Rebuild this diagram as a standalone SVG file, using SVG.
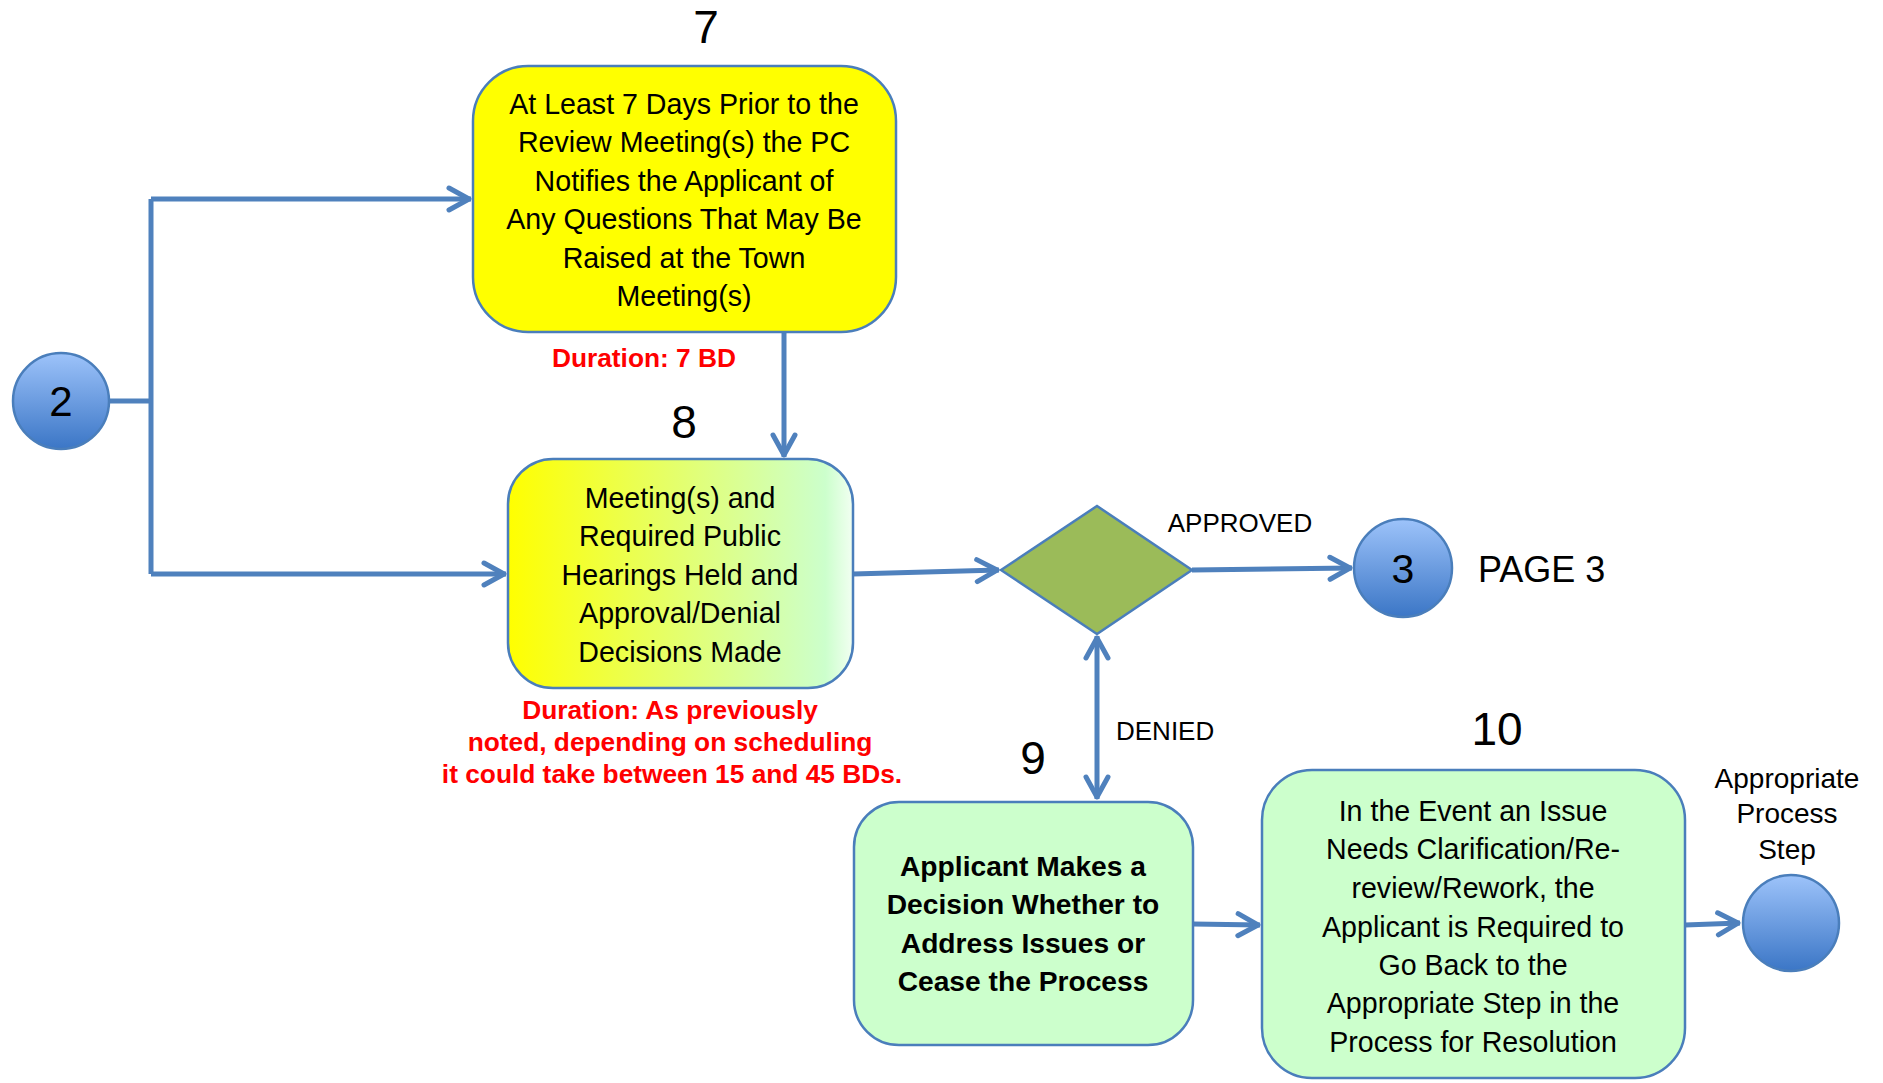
<svg xmlns="http://www.w3.org/2000/svg" width="1883" height="1083" viewBox="0 0 1883 1083">
<style>
.box{stroke:#4A7EBB;stroke-width:2.5}
.t{font-family:"Liberation Sans",Arial,sans-serif;font-size:28.6px;fill:#000;text-anchor:middle}
.b{font-weight:bold;font-size:28.2px}
.num{font-family:"Liberation Sans",Arial,sans-serif;font-size:46px;fill:#000;text-anchor:middle}
.red{font-family:"Liberation Sans",Arial,sans-serif;font-size:26.3px;font-weight:bold;fill:#FF0000;text-anchor:middle}
.lbl{font-family:"Liberation Sans",Arial,sans-serif;font-size:26px;fill:#000}
.conn{fill:none;stroke:#4F81BD;stroke-width:5}
.circ{fill:url(#cg);stroke:#4A7EBB;stroke-width:2.5}
</style>
<defs>
<linearGradient id="cg" x1="0" y1="0" x2="0" y2="1">
<stop offset="0" stop-color="#9DC3FA"/>
<stop offset="1" stop-color="#3B76C6"/>
</linearGradient>
<linearGradient id="yg" x1="0" y1="0" x2="1" y2="0">
<stop offset="0" stop-color="#FFFF00"/>
<stop offset="0.92" stop-color="#CCFFCC"/>
<stop offset="1" stop-color="#F2FFF2"/>
</linearGradient>
<marker id="ah" markerUnits="userSpaceOnUse" markerWidth="40" markerHeight="40" refX="2" refY="0" viewBox="-30 -20 40 40" orient="auto-start-reverse" overflow="visible">
<path d="M-20,-11 L0,0 L-20,11" fill="none" stroke="#4F81BD" stroke-width="5" stroke-linecap="round" stroke-linejoin="round"/>
</marker>
</defs>
<rect width="1883" height="1083" fill="#FFFFFF"/>

<g id="connectors">
<path class="conn" d="M110,401 H151"/>
<path class="conn" d="M151,199 V574"/>
<path class="conn" d="M151,199 H471" marker-end="url(#ah)"/>
<path class="conn" d="M151,574 H506" marker-end="url(#ah)"/>
<path class="conn" d="M784,332 V457" marker-end="url(#ah)"/>
<path class="conn" d="M853,574 L999,570" marker-end="url(#ah)"/>
<path class="conn" d="M1192,570 L1352,568" marker-end="url(#ah)"/>
<path class="conn" d="M1097,636 V799" marker-start="url(#ah)" marker-end="url(#ah)"/>
<path class="conn" d="M1193,924 L1260,925" marker-end="url(#ah)"/>
<path class="conn" d="M1685,925 L1740,923" marker-end="url(#ah)"/>
</g>

<g id="node-2">
<ellipse class="circ" cx="61" cy="401" rx="48" ry="48"/>
<text class="num" x="61" y="416" style="font-size:42px">2</text>
</g>

<g id="node-7">
<text class="num" x="706" y="43">7</text>
<rect class="box" x="473" y="66" width="423" height="266" rx="55" ry="55" fill="#FFFF00"/>
<text class="t" x="684" y="114">At Least 7 Days Prior to the</text>
<text class="t" x="684" y="152">Review Meeting(s) the PC</text>
<text class="t" x="684" y="191">Notifies the Applicant of</text>
<text class="t" x="684" y="229">Any Questions That May Be</text>
<text class="t" x="684" y="268">Raised at the Town</text>
<text class="t" x="684" y="306">Meeting(s)</text>
<text class="red" x="644" y="367">Duration: 7 BD</text>
</g>

<g id="node-8">
<text class="num" x="684" y="438">8</text>
<rect class="box" x="508" y="459" width="345" height="229" rx="45" ry="45" fill="url(#yg)"/>
<text class="t" x="680" y="508">Meeting(s) and</text>
<text class="t" x="680" y="546">Required Public</text>
<text class="t" x="680" y="585">Hearings Held and</text>
<text class="t" x="680" y="623">Approval/Denial</text>
<text class="t" x="680" y="662">Decisions Made</text>
<text class="red" x="670" y="719">Duration: As previously</text>
<text class="red" x="670" y="751">noted, depending on scheduling</text>
<text class="red" x="672" y="783">it could take between 15 and 45 BDs.</text>
</g>

<g id="decision">
<polygon points="1001,570 1097,506 1192,570 1097,634" fill="#9BBB59" stroke="#4A7EBB" stroke-width="2.5"/>
<text class="lbl" x="1240" y="532" text-anchor="middle">APPROVED</text>
<text class="lbl" x="1116" y="740">DENIED</text>
</g>

<g id="node-3">
<ellipse class="circ" cx="1403" cy="568" rx="49" ry="49"/>
<text class="num" x="1403" y="583" style="font-size:41px">3</text>
<text class="lbl" x="1478" y="582" style="font-size:36px">PAGE 3</text>
</g>

<g id="node-9">
<text class="num" x="1033" y="774">9</text>
<rect class="box" x="854" y="802" width="339" height="243" rx="45" ry="45" fill="#CCFFCC"/>
<text class="t b" x="1023" y="876">Applicant Makes a</text>
<text class="t b" x="1023" y="914">Decision Whether to</text>
<text class="t b" x="1023" y="953">Address Issues or</text>
<text class="t b" x="1023" y="991">Cease the Process</text>
</g>

<g id="node-10">
<text class="num" x="1497" y="745">10</text>
<rect class="box" x="1262" y="770" width="423" height="308" rx="50" ry="50" fill="#CCFFCC"/>
<text class="t" x="1473" y="821">In the Event an Issue</text>
<text class="t" x="1473" y="859">Needs Clarification/Re-</text>
<text class="t" x="1473" y="898">review/Rework, the</text>
<text class="t" x="1473" y="937">Applicant is Required to</text>
<text class="t" x="1473" y="975">Go Back to the</text>
<text class="t" x="1473" y="1013">Appropriate Step in the</text>
<text class="t" x="1473" y="1052">Process for Resolution</text>
</g>

<g id="node-step">
<text class="t" x="1787" y="788" style="font-size:28px">Appropriate</text>
<text class="t" x="1787" y="823" style="font-size:28px">Process</text>
<text class="t" x="1787" y="859" style="font-size:28px">Step</text>
<ellipse class="circ" cx="1791" cy="923" rx="48" ry="48"/>
</g>
</svg>
